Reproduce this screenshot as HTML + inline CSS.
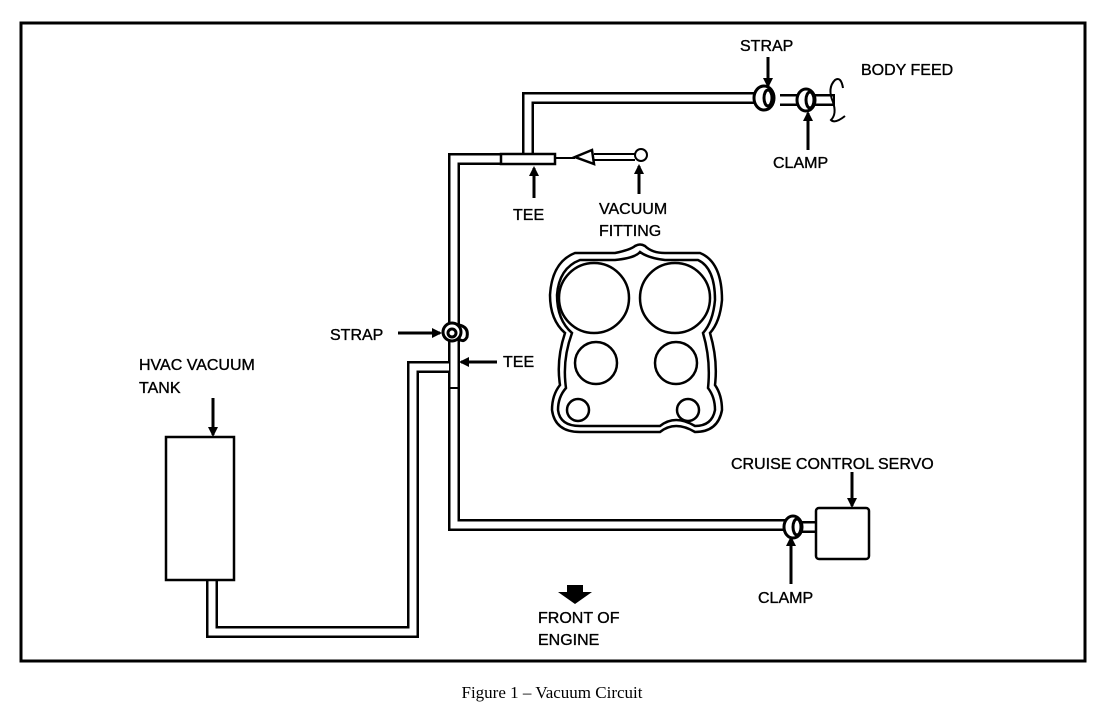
<!DOCTYPE html>
<html><head><meta charset="utf-8"><style>
body{margin:0;background:#fff;width:1104px;height:720px;overflow:hidden}
svg text{font-family:"Liberation Sans",Arial,sans-serif;font-size:16px;fill:#000;stroke:#000;stroke-width:0.35}
</style></head><body>
<svg width="1104" height="720" viewBox="0 0 1104 720" xmlns="http://www.w3.org/2000/svg">
<defs><marker id="a" markerWidth="10" markerHeight="10" refX="8" refY="5" orient="auto" markerUnits="userSpaceOnUse"><path d="M0,0 L10,5 L0,10 z"/></marker></defs>
<rect x="21" y="23" width="1064" height="638" fill="none" stroke="#000" stroke-width="3"/>
<g fill="none" stroke-linejoin="miter">
<g stroke="#000" stroke-width="12">
<polyline points="212,580 212,632 413,632 413,367 454,367"/>
<polyline points="500,159 454,159 454,525 785,525"/>
<polyline points="528,159 528,98 760,98"/>
<line x1="780" y1="100" x2="835" y2="100"/>
<line x1="795" y1="527" x2="816" y2="527"/>
</g>
<g stroke="#fff" stroke-width="7">
<polyline points="212,578 212,632 413,632 413,367 449,367"/>
<polyline points="502,159 454,159 454,525 785,525"/>
<polyline points="528,163 528,98 760,98"/>
<line x1="780" y1="100" x2="833" y2="100"/>
<line x1="795" y1="527" x2="816" y2="527"/>
</g>
<line x1="450" y1="388" x2="458" y2="388" stroke="#000" stroke-width="2"/>
<rect x="501" y="154" width="54" height="10" fill="#fff" stroke="#000" stroke-width="2.5"/>
<line x1="555" y1="158" x2="575" y2="158" stroke="#000" stroke-width="2"/>
<path d="M575,157 L592,150 L594,164 z" fill="#fff" stroke="#000" stroke-width="2.5"/>
<line x1="594" y1="154" x2="635" y2="154" stroke="#000" stroke-width="2"/>
<line x1="594" y1="160" x2="635" y2="160" stroke="#000" stroke-width="2"/>
<circle cx="641" cy="155" r="6" fill="#fff" stroke="#000" stroke-width="2"/>
<rect x="166" y="437" width="68" height="143" fill="#fff" stroke="#000" stroke-width="2.5"/>
<rect x="816" y="508" width="53" height="51" rx="3" fill="#fff" stroke="#000" stroke-width="2.5"/>
<g stroke="#000" stroke-width="3" fill="#fff">
<ellipse cx="764" cy="98" rx="10" ry="12"/><ellipse cx="768" cy="98" rx="4" ry="8"/>
<ellipse cx="806" cy="100" rx="9" ry="11"/><ellipse cx="810" cy="100" rx="4" ry="8"/>
<ellipse cx="793" cy="527" rx="9" ry="11"/><ellipse cx="797" cy="527" rx="4" ry="8"/>
<circle cx="452" cy="332" r="9"/><circle cx="452" cy="333" r="4"/>
<path d="M459,325 q10,2 8,12 q-3,6 -8,2" fill="none"/>
</g>
<path d="M843,88 q-2,-12 -8,-8 q-8,8 -2,22 q4,12 -2,18 q4,4 14,-4" stroke="#000" stroke-width="2"/>
<g stroke="#000" stroke-width="2.5">
<path d="M575,253 L615,253 Q630,250 635,246 Q640,243 645,246 Q652,253 665,253 L700,253 Q722,262 722,300 Q720,322 710,333 Q718,360 715,385 Q722,395 722,410 Q718,432 695,432 Q675,420 660,432 L580,432 Q555,432 552,410 Q552,395 560,385 Q556,360 565,333 Q550,320 550,295 Q552,262 575,253 z"/>
<path d="M580,260 L615,260 Q635,258 640,252 Q648,258 665,260 L698,260 Q715,268 715,300 Q713,322 703,333 Q711,360 708,388 Q715,397 715,410 Q712,426 695,426 Q675,414 660,426 L580,426 Q560,426 558,410 Q558,397 566,388 Q562,360 572,333 Q557,320 557,295 Q559,268 580,260 z"/>
<circle cx="594" cy="298" r="35"/><circle cx="675" cy="298" r="35"/>
<circle cx="596" cy="363" r="21"/><circle cx="676" cy="363" r="21"/>
<circle cx="578" cy="410" r="11"/><circle cx="688" cy="410" r="11"/>
</g>
<g stroke="#000" stroke-width="3" marker-end="url(#a)">
<line x1="768" y1="57" x2="768" y2="86"/>
<line x1="808" y1="150" x2="808" y2="113"/>
<line x1="534" y1="198" x2="534" y2="168"/>
<line x1="639" y1="194" x2="639" y2="166"/>
<line x1="398" y1="333" x2="440" y2="333"/>
<line x1="497" y1="362" x2="461" y2="362"/>
<line x1="213" y1="398" x2="213" y2="435"/>
<line x1="852" y1="472" x2="852" y2="506"/>
<line x1="791" y1="584" x2="791" y2="538"/>
</g>
</g>
<path d="M567,585 L583,585 L583,592 L592,592 L575,604 L558,592 L567,592 z"/>
<text x="740" y="51">STRAP</text>
<text x="861" y="75">BODY FEED</text>
<text x="773" y="168">CLAMP</text>
<text x="513" y="220">TEE</text>
<text x="599" y="214">VACUUM</text>
<text x="599" y="236">FITTING</text>
<text x="330" y="340">STRAP</text>
<text x="503" y="367">TEE</text>
<text x="139" y="370">HVAC VACUUM</text>
<text x="139" y="393">TANK</text>
<text x="731" y="469">CRUISE CONTROL SERVO</text>
<text x="758" y="603">CLAMP</text>
<text x="538" y="623">FRONT OF</text>
<text x="538" y="645">ENGINE</text>
<text x="552" y="698" text-anchor="middle" style="font-family:'Liberation Serif',serif;font-size:17px;stroke:none">Figure 1 – Vacuum Circuit</text>
</svg>
</body></html>
